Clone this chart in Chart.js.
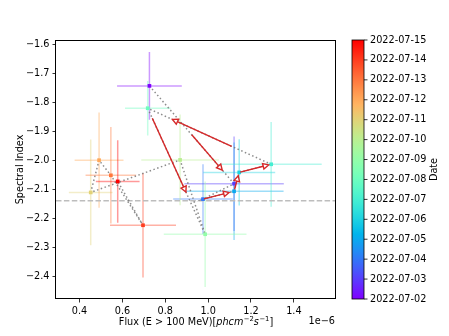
<!DOCTYPE html>
<html>
<head>
<meta charset="utf-8">
<script src="https://cdn.jsdelivr.net/npm/chart.js@4.4.0/dist/chart.umd.min.js"></script>
<style>
  html, body { margin: 0; padding: 0; background: #fff; }
  canvas { display: block; }
</style>
</head>
<body>
<canvas id="fluxIndexChart" width="449" height="336"></canvas>
<script>
// one bin per day, in time order
const dates = ['2022-07-02', '2022-07-03', '2022-07-04', '2022-07-05', '2022-07-06', '2022-07-07', '2022-07-08',
               '2022-07-09', '2022-07-10', '2022-07-11', '2022-07-12', '2022-07-13', '2022-07-14', '2022-07-15'];
// flux in units of 1e-6 ph cm^-2 s^-1
const flux     = [0.726, 1.121, 0.976, 1.121, 1.145, 1.294, 0.718, 0.986, 0.869, 0.452, 0.491, 0.546, 0.696, 0.578];
const fluxErr  = [0.151, 0.232, 0.139, 0.231, 0.168, 0.236, 0.106, 0.193, 0.181, 0.102, 0.114, 0.118, 0.154, 0.102];
const index    = [-1.744, -2.081, -2.134, -2.107, -2.042, -2.014, -1.821, -2.255, -1.999, -2.111, -2.000, -2.052, -2.224, -2.073];
const indexErr = [0.117, 0.163, 0.120, 0.168, 0.114, 0.146, 0.094, 0.182, 0.156, 0.182, 0.164, 0.166, 0.180, 0.142];
const meanIndex = -2.14;

const xTicks = [0.4, 0.6, 0.8, 1.0, 1.2, 1.4];
const yTicks = [-2.4, -2.3, -2.2, -2.1, -2.0, -1.9, -1.8, -1.7, -1.6];

// red arrows on some steps (step i = bin i -> bin i+1), drawn over part of the step
const arrowSteps = [0, 2, 3, 4, 5, 6];
const arrowFrom  = [0.50, 0.03, 0.10, 0.03, 0.32, 0.08];
const arrowTo    = [0.86, 0.84, 0.82, 0.92, 0.80, 0.665];

const FONT = '"DejaVu Sans", sans-serif';
const FS = 9.7;

// matplotlib 'rainbow' colormap
function rainbow(t) {
  const r = Math.min(1, Math.abs(2 * t - 0.5));
  const g = Math.sin(Math.PI * t);
  const b = Math.cos(Math.PI * t / 2);
  return [r, g, b].map(v => Math.round(Math.max(0, Math.min(1, v)) * 255));
}

const dayMs = dates.map(d => Date.parse(d));
const tNorm = dayMs.map(d => (d - dayMs[0]) / (dayMs[dayMs.length - 1] - dayMs[0]));
const rgb = tNorm.map(rainbow);
const solid = rgb.map(c => `rgb(${c[0]},${c[1]},${c[2]})`);
const faint = rgb.map(c => `rgba(${c[0]},${c[1]},${c[2]},0.4)`);

const points = flux.map((f, i) => ({ x: f, y: index[i] }));

const errorBars = {
  id: 'errorBars',
  beforeDatasetsDraw(chart) {
    const { ctx, scales: { x, y }, chartArea } = chart;
    ctx.save();
    ctx.beginPath();
    ctx.rect(chartArea.left, chartArea.top, chartArea.width, chartArea.height);
    ctx.clip();
    ctx.lineWidth = 1.5;
    flux.forEach((f, i) => {
      const px = x.getPixelForValue(f), py = y.getPixelForValue(index[i]);
      ctx.strokeStyle = faint[i];
      ctx.beginPath();
      ctx.moveTo(x.getPixelForValue(f - fluxErr[i]), py);
      ctx.lineTo(x.getPixelForValue(f + fluxErr[i]), py);
      ctx.moveTo(px, y.getPixelForValue(index[i] - indexErr[i]));
      ctx.lineTo(px, y.getPixelForValue(index[i] + indexErr[i]));
      ctx.stroke();
    });
    // mean index
    const my = y.getPixelForValue(meanIndex);
    ctx.strokeStyle = '#bdbdbd';
    ctx.setLineDash([5.5, 2.4]);
    ctx.beginPath();
    ctx.moveTo(chartArea.left, my);
    ctx.lineTo(chartArea.right, my);
    ctx.stroke();
    ctx.restore();
  }
};

const arrows = {
  id: 'arrows',
  afterDatasetsDraw(chart) {
    const { ctx, scales: { x, y } } = chart;
    ctx.save();
    ctx.strokeStyle = '#d62728';
    ctx.fillStyle = '#ffffff';
    ctx.lineWidth = 1.4;
    ctx.lineJoin = 'miter';
    arrowSteps.forEach((s, k) => {
      const x0 = x.getPixelForValue(flux[s]), y0 = y.getPixelForValue(index[s]);
      const x1 = x.getPixelForValue(flux[s + 1]), y1 = y.getPixelForValue(index[s + 1]);
      const sx = x0 + (x1 - x0) * arrowFrom[k], sy = y0 + (y1 - y0) * arrowFrom[k];
      const ex = x0 + (x1 - x0) * arrowTo[k], ey = y0 + (y1 - y0) * arrowTo[k];
      const a = Math.atan2(ey - sy, ex - sx);
      const hl = 5.5, hw = 2.8;
      const bx = ex - hl * Math.cos(a), by = ey - hl * Math.sin(a);
      ctx.beginPath();
      ctx.moveTo(sx, sy);
      ctx.lineTo(bx, by);
      ctx.stroke();
      ctx.beginPath();
      ctx.moveTo(ex, ey);
      ctx.lineTo(bx - hw * Math.sin(a), by + hw * Math.cos(a));
      ctx.lineTo(bx + hw * Math.sin(a), by - hw * Math.cos(a));
      ctx.closePath();
      ctx.fill();
      ctx.stroke();
    });
    ctx.restore();
  }
};

const decorations = {
  id: 'decorations',
  afterDraw(chart) {
    const { ctx, chartArea: ca } = chart;
    ctx.save();
    // axes frame
    ctx.strokeStyle = '#000';
    ctx.lineWidth = 1;
    ctx.strokeRect(Math.round(ca.left) - 0.5, Math.round(ca.top) + 0.5,
                   Math.round(ca.width) + 1, Math.round(ca.height) - 1);

    // x label with mathtext-like pieces
    const big = FS + 'px ' + FONT, bigI = 'italic ' + FS + 'px ' + FONT, small = '6.8px ' + FONT;
    const parts = [
      ['Flux (E > 100 MeV)[', big, 0], ['phcm', bigI, 0], ['\u22122', small, -4],
      ['s', bigI, 0], ['\u22121', small, -4], [']', big, 0]
    ];
    let total = 0;
    parts.forEach(p => { ctx.font = p[1]; total += ctx.measureText(p[0]).width; });
    let cx = (ca.left + ca.right) / 2 - total / 2;
    const base = 325;
    ctx.fillStyle = '#000';
    ctx.textBaseline = 'alphabetic';
    ctx.textAlign = 'left';
    parts.forEach(p => {
      ctx.font = p[1];
      ctx.fillText(p[0], cx, base + p[2]);
      cx += ctx.measureText(p[0]).width + (p[1] === bigI ? 0.5 : 0);
    });

    // offset text
    ctx.font = big;
    ctx.textAlign = 'right';
    ctx.fillText('1e\u22126', ca.right, 323.5);

    // colorbar
    const cbL = ca.right + 17, cbW = 12, cbT = ca.top, cbB = ca.bottom;
    const grad = ctx.createLinearGradient(0, cbB, 0, cbT);
    for (let s = 0; s <= 32; s++) {
      const c = rainbow(s / 32);
      grad.addColorStop(s / 32, `rgb(${c[0]},${c[1]},${c[2]})`);
    }
    ctx.fillStyle = grad;
    ctx.fillRect(cbL, cbT, cbW, cbB - cbT);
    ctx.strokeStyle = '#000';
    ctx.lineWidth = 0.8;
    ctx.strokeRect(cbL, cbT, cbW, cbB - cbT);
    ctx.fillStyle = '#000';
    ctx.font = big;
    ctx.textAlign = 'left';
    ctx.textBaseline = 'middle';
    dates.forEach((d, i) => {
      const ty = cbB - tNorm[i] * (cbB - cbT);
      ctx.beginPath();
      ctx.moveTo(cbL + cbW, ty);
      ctx.lineTo(cbL + cbW + 3.5, ty);
      ctx.stroke();
      ctx.fillText(d, cbL + cbW + 6, ty);
    });
    ctx.translate(434, (cbT + cbB) / 2);
    ctx.rotate(-Math.PI / 2);
    ctx.textAlign = 'center';
    ctx.fillText('Date', 0, 0);
    ctx.restore();
  }
};

const minus = v => (v < 0 ? '\u2212' : '') + Math.abs(v).toFixed(1);

new Chart(document.getElementById('fluxIndexChart').getContext('2d'), {
  type: 'scatter',
  data: {
    datasets: [{
      label: 'bins',
      data: points,
      pointStyle: 'rect',
      pointRadius: 2.6,
      pointBackgroundColor: solid,
      pointBorderWidth: 0
    }, {
      label: 'path',
      data: points,
      showLine: true,
      borderColor: 'rgba(120,120,120,0.85)',
      borderWidth: 1.5,
      borderDash: [1.5, 2.5],
      pointRadius: 0
    }]
  },
  options: {
    responsive: false,
    devicePixelRatio: 1,
    animation: false,
    layout: { padding: { left: 0, right: 114, top: 40, bottom: 0 } },
    plugins: { legend: { display: false }, tooltip: { enabled: false } },
    scales: {
      x: {
        type: 'linear',
        min: 0.29,
        max: 1.592,
        border: { display: false },
        grid: { drawOnChartArea: false, drawTicks: true, tickLength: 3.5, color: '#000', lineWidth: 0.8 },
        ticks: { color: '#000', font: { family: FONT, size: FS }, padding: 3, maxRotation: 0, callback: v => v.toFixed(1) },
        afterBuildTicks: s => { s.ticks = xTicks.map(v => ({ value: v })); },
        afterFit: s => { s.height = 37; }
      },
      y: {
        type: 'linear',
        min: -2.478,
        max: -1.586,
        border: { display: false },
        grid: { drawOnChartArea: false, drawTicks: true, tickLength: 3.5, color: '#000', lineWidth: 0.8 },
        ticks: { color: '#000', font: { family: FONT, size: FS }, padding: 3, callback: minus },
        title: { display: true, text: 'Spectral Index', color: '#000', font: { family: FONT, size: FS }, padding: { top: 15 } },
        afterBuildTicks: s => { s.ticks = yTicks.map(v => ({ value: v })); },
        afterFit: s => { s.width = 56; }
      }
    }
  },
  plugins: [errorBars, arrows, decorations]
});
</script>
</body>
</html>
